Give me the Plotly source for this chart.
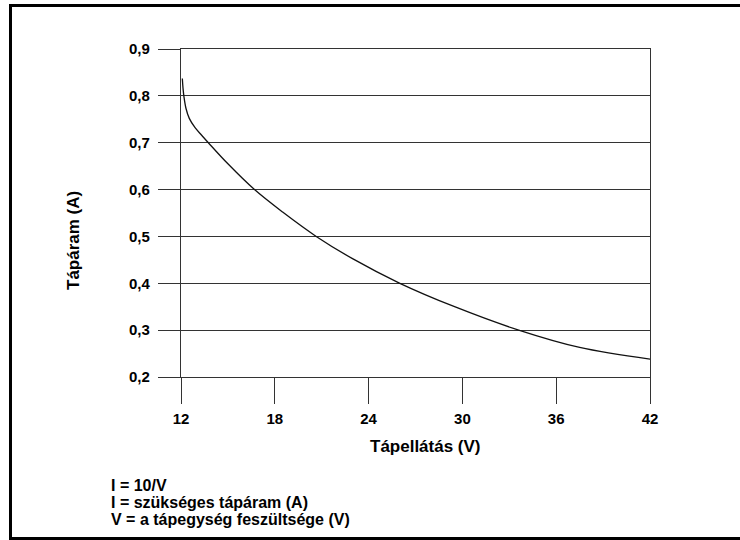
import plotly.graph_objects as go

# Data
voltage = [12.085, 12.13, 12.19, 12.32, 12.53, 12.90, 13.32, 13.75, 15.0, 16.7, 18.5, 20.65,
           23.0, 26.0, 29.5, 33.6, 37.5, 42.0]
current = [0.837, 0.816, 0.798, 0.773, 0.752, 0.732, 0.716, 0.700, 0.655, 0.600, 0.552, 0.500,
           0.452, 0.400, 0.350, 0.300, 0.263, 0.238]

x_tick_vals = [12, 18, 24, 30, 36, 42]
x_tick_text = ["12", "18", "24", "30", "36", "42"]
y_tick_vals = [0.2, 0.3, 0.4, 0.5, 0.6, 0.7, 0.8, 0.9]
y_tick_text = ["0,2", "0,3", "0,4", "0,5", "0,6", "0,7", "0,8", "0,9"]

x_title = "Tápellátás (V)"
y_title = "Tápáram (A)"
notes = ["I = 10/V", "I = szükséges tápáram (A)", "V = a tápegység feszültsége (V)"]

W, H = 740, 540
FONT = "Liberation Sans, Arial, sans-serif"

def px(x):
    return x / W

def py(y):
    return 1 - y / H

fig = go.Figure()
fig.add_trace(go.Scatter(
    x=voltage, y=current, mode="lines",
    line=dict(color="#111111", width=1.3, shape="spline", smoothing=1.0),
    hoverinfo="skip", showlegend=False,
))

grid_col = "#333333"
fig.update_layout(
    width=W, height=H,
    margin=dict(l=0, r=0, t=0, b=0, autoexpand=False),
    paper_bgcolor="white", plot_bgcolor="white",
    font=dict(family=FONT, color="black"),
    xaxis=dict(
        domain=[px(181), px(650)], range=[12, 42], automargin=False,
        tickvals=x_tick_vals, ticktext=x_tick_text,
        ticks="outside", ticklen=26, tickwidth=1.4, tickcolor=grid_col,
        showline=True, linecolor=grid_col, linewidth=1.4, mirror=True,
        showgrid=False, zeroline=False,
        tickfont=dict(family=FONT, size=15, color="black", weight="bold"),
        ticklabelstandoff=2,
    ),
    yaxis=dict(
        domain=[py(377), py(49)], range=[0.2, 0.9], automargin=False,
        tickvals=y_tick_vals, ticktext=y_tick_text,
        ticks="outside", ticklen=22, tickwidth=1.4, tickcolor=grid_col,
        showline=True, linecolor=grid_col, linewidth=1.4, mirror=True,
        showgrid=True, gridcolor=grid_col, gridwidth=1.4, zeroline=False,
        tickfont=dict(family=FONT, size=15, color="black", weight="bold"),
        ticklabelstandoff=5,
    ),
)

annotations = [
    dict(x=px(425), y=py(446), xref="paper", yref="paper", text=x_title,
         showarrow=False, xanchor="center", yanchor="middle",
         font=dict(family=FONT, size=17, color="black", weight="bold")),
    dict(x=px(73), y=py(241), xref="paper", yref="paper", text=y_title,
         showarrow=False, xanchor="center", yanchor="middle", textangle=-90,
         font=dict(family=FONT, size=17, color="black", weight="bold")),
]
for i, t in enumerate(notes):
    annotations.append(dict(
        x=px(109), y=py(485 + 17 * i), xref="paper", yref="paper", text=t,
        showarrow=False, xanchor="left", yanchor="middle",
        font=dict(family=FONT, size=16, color="black", weight="bold")))
fig.update_layout(annotations=annotations)

# outer frame (left, top, bottom)
frame = dict(color="black", width=3)
fig.add_shape(type="line", xref="paper", yref="paper", x0=px(10.5), x1=px(10.5), y0=py(5), y1=py(538.5), line=frame)
fig.add_shape(type="line", xref="paper", yref="paper", x0=px(9), x1=1.0, y0=py(5.5), y1=py(5.5), line=frame)
fig.add_shape(type="line", xref="paper", yref="paper", x0=px(9), x1=1.0, y0=py(538.5), y1=py(538.5), line=frame)

fig.write_html("out.html", config={"displayModeBar": False},
               post_script="document.body.style.margin='0';document.body.style.overflow='hidden';")
